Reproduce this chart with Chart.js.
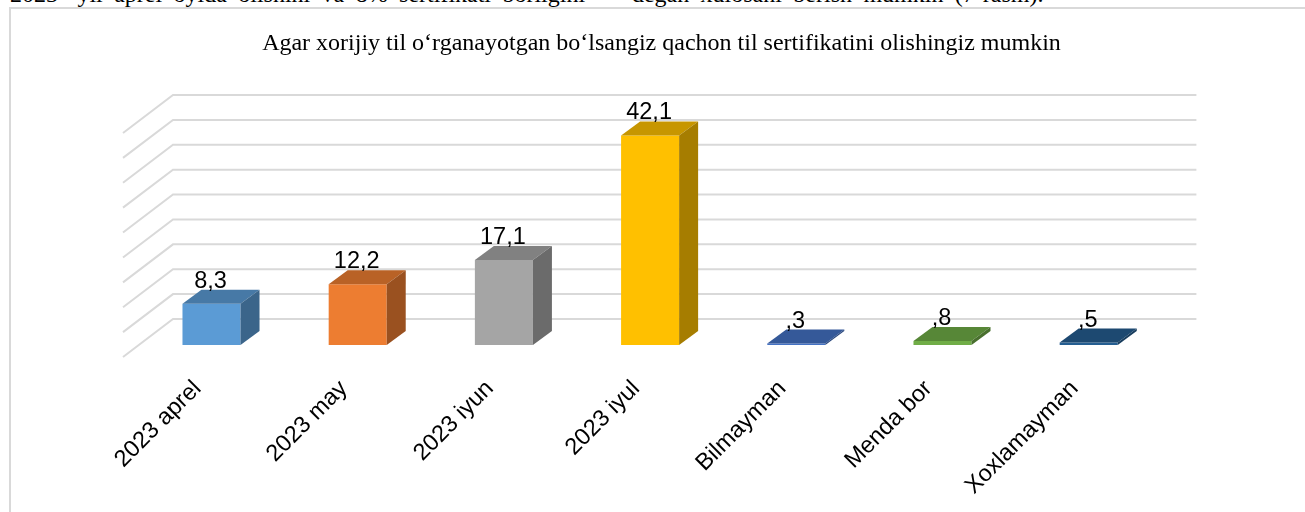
<!DOCTYPE html>
<html>
<head>
    <meta charset="UTF-8">
    <title>Til sertifikati</title>
    <script src="https://cdn.jsdelivr.net/npm/chart.js"></script>
    <style>
        html, body { margin: 0; padding: 0; background: #fff; overflow: hidden; width: 1305px; height: 512px; }
        #topline {
            position: absolute; left: 10px; top: -19px; white-space: nowrap;
            font: 24px "Liberation Serif", serif; color: #000; word-spacing: 5.4px;
        }
        #frame {
            position: absolute; left: 9px; top: 7px; width: 1305px; height: 505px;
            background: #fff; box-shadow: inset 2px 2px 0 #d9d9d9;
        }
        canvas { position: absolute; left: 0; top: 0; }
    </style>
</head>
<body>
    <div id="topline">2023- yil aprel oyida olishini va 8% sertifikati borligini — degan xulosani berish mumkin (7-rasm).</div>
    <div id="frame"><canvas id="chart" width="1305" height="505"></canvas></div>

    <script>
        const titleText = 'Agar xorijiy til o‘rganayotgan bo‘lsangiz qachon til sertifikatini olishingiz mumkin';
        const categories = ['2023 aprel', '2023 may', '2023 iyun', '2023 iyul', 'Bilmayman', 'Menda bor', 'Xoxlamayman'];
        const values = [8.3, 12.2, 17.1, 42.1, 0.3, 0.8, 0.5];
        const colors = ['#5b9bd5', '#ed7d31', '#a5a5a5', '#ffc000', '#4472c4', '#70ad47', '#255e91'];

        // darken a hex colour for the top and side faces
        function shade(hex, f) {
            const n = parseInt(hex.slice(1), 16);
            const c = [n >> 16, (n >> 8) & 255, n & 255].map(v => Math.round(v * f));
            return `rgb(${c[0]},${c[1]},${c[2]})`;
        }

        function valueLabel(v) {
            return String(v).replace('.', ',').replace(/^0/, '');
        }

        // 3D look: floor depth around the bar plane and the depth of a bar
        const wallDx = 34.6, wallDy = -26, frontDx = -15.4, frontDy = 12;
        const barDx = 19, barDy = -14;

        const fake3d = {
            id: 'fake3d',
            beforeDatasetsDraw(chart) {
                const { ctx, chartArea, scales } = chart;
                ctx.save();
                ctx.strokeStyle = '#d9d9d9';
                ctx.lineWidth = 2;
                scales.y.ticks.forEach(t => {
                    const y = scales.y.getPixelForValue(t.value);
                    ctx.beginPath();
                    ctx.moveTo(chartArea.left + frontDx, y + frontDy);
                    ctx.lineTo(chartArea.left + wallDx, y + wallDy);
                    ctx.lineTo(chartArea.right + wallDx, y + wallDy);
                    ctx.stroke();
                });
                ctx.restore();
            },
            afterDatasetsDraw(chart) {
                const { ctx } = chart;
                chart.getDatasetMeta(0).data.forEach((bar, i) => {
                    const p = bar.getProps(['x', 'y', 'base', 'width'], true);
                    const l = p.x - p.width / 2, r = p.x + p.width / 2;
                    ctx.save();
                    ctx.fillStyle = shade(colors[i], 0.78);
                    ctx.beginPath();
                    ctx.moveTo(l, p.y);
                    ctx.lineTo(l + barDx, p.y + barDy);
                    ctx.lineTo(r + barDx, p.y + barDy);
                    ctx.lineTo(r, p.y);
                    ctx.closePath();
                    ctx.fill();
                    ctx.fillStyle = shade(colors[i], 0.65);
                    ctx.beginPath();
                    ctx.moveTo(r, p.y);
                    ctx.lineTo(r + barDx, p.y + barDy);
                    ctx.lineTo(r + barDx, p.base + barDy);
                    ctx.lineTo(r, p.base);
                    ctx.closePath();
                    ctx.fill();
                    ctx.fillStyle = '#000';
                    ctx.font = '23.5px "Liberation Sans"';
                    ctx.textAlign = 'center';
                    ctx.textBaseline = 'alphabetic';
                    ctx.fillText(valueLabel(values[i]), p.x - 1, p.y - 16);
                    ctx.restore();
                });
            }
        };

        new Chart(document.getElementById('chart').getContext('2d'), {
            type: 'bar',
            data: {
                labels: categories,
                datasets: [{
                    data: values,
                    backgroundColor: colors,
                    borderWidth: 0,
                    barPercentage: 0.397,
                    categoryPercentage: 1
                }]
            },
            plugins: [fake3d],
            options: {
                responsive: false,
                animation: false,
                layout: { padding: 0 },
                plugins: {
                    legend: { display: false },
                    tooltip: { enabled: false },
                    title: {
                        display: true,
                        text: titleText,
                        color: '#000',
                        font: { family: '"Liberation Serif"', size: 24, weight: 'normal' },
                        padding: { top: 22, bottom: 63.2 }
                    }
                },
                scales: {
                    x: {
                        grid: { display: false },
                        border: { display: false },
                        afterFit(s) { s.height = 167; s.paddingLeft = 0; s.paddingRight = 0; },
                        ticks: {
                            color: '#000',
                            font: { family: '"Liberation Sans"', size: 23.5 },
                            minRotation: 45,
                            maxRotation: 45,
                            autoSkip: false,
                            padding: 22,
                            labelOffset: -14
                        }
                    },
                    y: {
                        min: 0,
                        max: 45,
                        grid: { display: false },
                        border: { display: false },
                        afterFit(s) { s.width = 129.4; },
                        ticks: { display: false, stepSize: 5 }
                    },
                    // empty right axis keeps the plot narrower while the title stays centred on the frame
                    y2: {
                        position: 'right',
                        min: 0,
                        max: 45,
                        grid: { display: false },
                        border: { display: false },
                        afterFit(s) { s.width = 152.2; },
                        ticks: { display: false }
                    }
                }
            }
        });
    </script>
</body>
</html>
